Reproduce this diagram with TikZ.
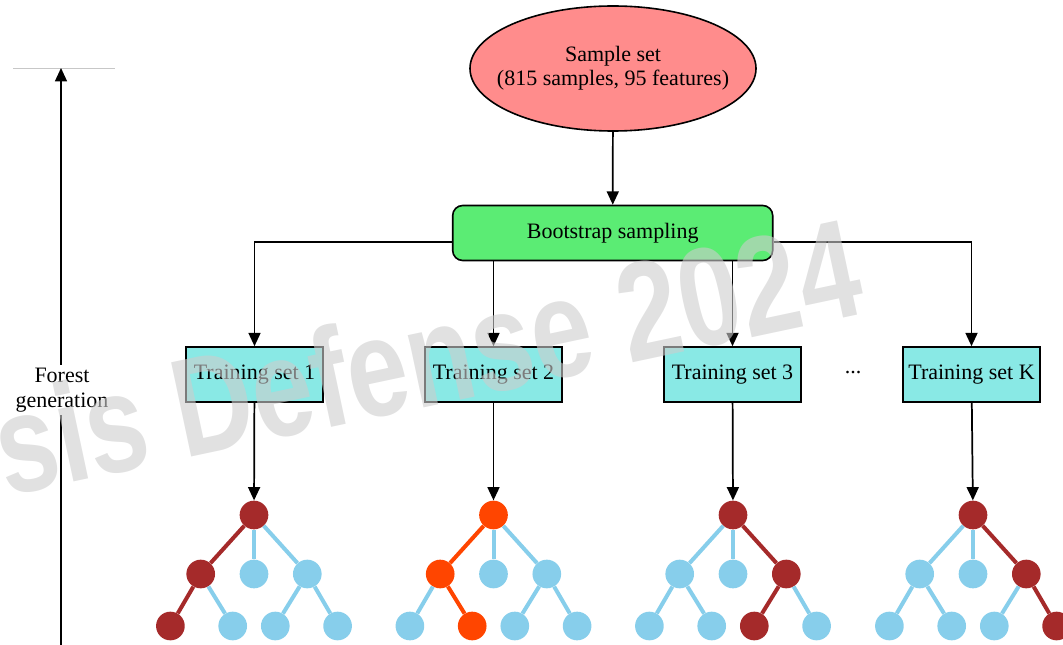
\documentclass[tikz,border=0pt]{standalone}
\usepackage{fontspec}
\setmainfont{Liberation Serif}
\newfontfamily\wmfont{Liberation Sans}
\usetikzlibrary{arrows.meta,shapes.geometric}
\definecolor{pinkfill}{RGB}{255,140,140}
\definecolor{greenfill}{RGB}{91,236,116}
\definecolor{cyanfill}{RGB}{137,233,229}
\definecolor{dred}{RGB}{165,42,42}
\definecolor{ored}{RGB}{255,69,0}
\definecolor{lblue}{RGB}{135,206,235}
\definecolor{wmgray}{RGB}{205,205,205}
\newcommand\mytree[5]{%
  \node[tnode, fill=#3] (#1-r) at (#2,515) {};
  \foreach \i/\dx in {1/-53.3,2/0,3/53.3}{%
    \ifnum\i=#4\relax\def\cc{#3}\else\def\cc{lblue}\fi
    \node[tnode, fill=\cc] (#1-m\i) at ({#2+\dx},574) {};
    \draw[tedge, draw=\cc] (#1-r) -- (#1-m\i);
  }
  \foreach \i/\dx/\p in {1/-83.6/1,2/-21.3/1,3/21.3/3,4/83.6/3}{%
    \ifnum\i=#5\relax\def\cc{#3}\else\def\cc{lblue}\fi
    \node[tnode, fill=\cc] (#1-l\i) at ({#2+\dx},626) {};
    \draw[tedge, draw=\cc] (#1-m\p) -- (#1-l\i);
  }
}
\begin{document}
\begin{tikzpicture}[x=0.75pt,y=-0.75pt,
  every node/.style={font=\fontsize{16.5}{18}\selectfont},
  conn/.style={draw, line width=1.3pt, -{Triangle[width=9pt,length=10pt]}},
  tbox/.style={draw, line width=1.2pt, fill=cyanfill, minimum width=102.75pt, minimum height=41.25pt, inner sep=0pt},
  tnode/.style={circle, minimum size=21.5pt, inner sep=0pt, draw=none},
  tedge/.style={line width=3pt}]
\useasboundingbox (0,0) rectangle (1063,645);

% left axis
\coordinate (hl) at (13,68);
\coordinate (hr) at (115,68);
\draw[line width=0.7pt, black!22] (hl) -- (hr);
\coordinate (axb) at (61,650);
\coordinate (axt) at (61,68);
\draw[line width=0.9pt, -{Triangle[width=9pt,length=10pt]}] (axb) -- (axt);
\node[fill=white, align=center, inner sep=2pt] (lab) at (62,390) {Forest\\[1pt]generation};

% top
\node[ellipse, draw, line width=1.2pt, fill=pinkfill, minimum width=214.5pt, minimum height=93.75pt, inner sep=0pt, align=center] (sample) at (613,68.5) {\makebox[0pt]{Sample set}\\\makebox[0pt]{(815 samples, 95 features)}};
\node[draw, line width=1.2pt, fill=greenfill, rounded corners=7.5pt, minimum width=240pt, minimum height=41.25pt, inner sep=0pt] (boot) at (612.7,233) {Bootstrap sampling};
\draw[conn] (sample) -- (boot);

% training sets
\node[tbox] (ts1) at (254.5,374.5) {Training set 1};
\node[tbox] (ts2) at (493.5,374.5) {Training set 2};
\node[tbox] (ts3) at (732.5,374.5) {Training set 3};
\node[tbox] (tsk) at (971.5,374.5) {Training set K};
\node (dots) at (853,373) {...};

\coordinate (bl) at (254.5,241.7);
\coordinate (br) at (971.5,241.7);
\draw[conn] (boot.west |- bl) -- (bl) -- (ts1);
\draw[conn] (boot.east |- br) -- (br) -- (tsk);
\draw[conn] (boot.south -| ts2) -- (ts2);
\draw[conn] (boot.south -| ts3) -- (ts3);

% trees
\mytree{ta}{254}{dred}{1}{1}
\mytree{tb}{493.5}{ored}{1}{2}
\mytree{tc}{733}{dred}{3}{3}
\mytree{td}{973}{dred}{3}{4}

\draw[conn] (ts1) -- (ta-r);
\draw[conn] (ts2) -- (tb-r);
\draw[conn] (ts3) -- (tc-r);
\draw[conn] (tsk) -- (td-r);

% watermark
\node[anchor=base east, rotate=12, text=wmgray, text opacity=0.6, inner sep=0pt, font=\wmfont\bfseries\fontsize{105}{105}\selectfont] (wm) at (868,313) {\scalebox{0.78}[1]{Thesis Defense 2024}};
\end{tikzpicture}
\end{document}
